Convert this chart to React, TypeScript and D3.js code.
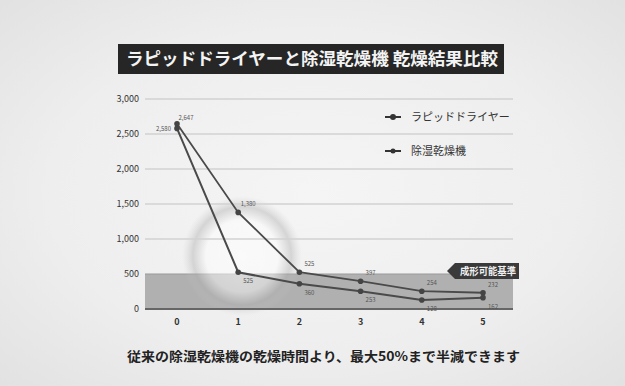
import * as d3 from "d3";
import React, { useEffect, useRef } from "react";

const steps = [0, 1, 2, 3, 4, 5];
const rapidDryer = [2580, 525, 360, 253, 128, 162];
const dehumidDryer = [2647, 1380, 525, 397, 254, 232];
const yTicks = [0, 500, 1000, 1500, 2000, 2500, 3000];
const seriesNames = ["ラピッドドライヤー", "除湿乾燥機"];
const moldLimit = 500;

export default function App() {
    const ref = useRef<SVGSVGElement | null>(null);

    useEffect(() => {
        const svg = d3.select(ref.current);
        svg.selectAll("*").remove();
        const font = "'Noto Sans CJK JP', 'Noto Sans', sans-serif";

        const x = d3.scaleLinear().domain([0, 5]).range([177, 483]);
        const y = d3.scaleLinear().domain([0, 3000]).range([309, 99]);

        const defs = svg.append("defs");
        const bg = defs.append("radialGradient").attr("id", "bg").attr("cx", 0.5).attr("cy", 0.5).attr("r", 0.7);
        bg.append("stop").attr("offset", 0).attr("stop-color", "#f5f5f5");
        bg.append("stop").attr("offset", 0.6).attr("stop-color", "#eeeeee");
        bg.append("stop").attr("offset", 1).attr("stop-color", "#e2e2e2");
        const glow = defs.append("radialGradient").attr("id", "glow");
        glow.append("stop").attr("offset", 0).attr("stop-color", "#ffffff").attr("stop-opacity", 0.6);
        glow.append("stop").attr("offset", 0.6).attr("stop-color", "#ffffff").attr("stop-opacity", 0.45);
        glow.append("stop").attr("offset", 0.82).attr("stop-color", "#b0b0b0").attr("stop-opacity", 0.45);
        glow.append("stop").attr("offset", 1).attr("stop-color", "#cccccc").attr("stop-opacity", 0);

        svg.append("rect").attr("width", 625).attr("height", 386).attr("fill", "url(#bg)");

        // title
        svg.append("rect").attr("x", 118).attr("y", 44).attr("width", 386).attr("height", 30).attr("fill", "#262626");
        svg.append("text")
            .attr("x", 126).attr("y", 65)
            .attr("textLength", 372).attr("lengthAdjust", "spacingAndGlyphs")
            .attr("font-family", font).attr("font-weight", "bold").attr("font-size", 17)
            .attr("fill", "#f4f4f4")
            .text("ラピッドドライヤーと除湿乾燥機 乾燥結果比較");

        // band
        svg.append("rect")
            .attr("x", 145).attr("y", y(moldLimit))
            .attr("width", 368).attr("height", y(0) - y(moldLimit))
            .attr("fill", "#b0b0b0");
        svg.append("line").attr("x1", 145).attr("x2", 513).attr("y1", y(moldLimit)).attr("y2", y(moldLimit))
            .attr("stroke", "#999").attr("stroke-width", 1);

        // glow
        svg.append("circle").attr("cx", 242).attr("cy", 256).attr("r", 60).attr("fill", "url(#glow)");

        // grid
        svg.append("g").selectAll("line").data(yTicks.filter((t) => t > 0 && t !== moldLimit)).enter().append("line")
            .attr("x1", 145).attr("x2", 513)
            .attr("y1", (d) => y(d)).attr("y2", (d) => y(d))
            .attr("stroke", "#d2d2d2").attr("stroke-width", 1.5);
        svg.append("line").attr("x1", 145).attr("x2", 513).attr("y1", y(0)).attr("y2", y(0))
            .attr("stroke", "#666").attr("stroke-width", 2);

        // y labels
        svg.append("g").selectAll("text").data(yTicks).enter().append("text")
            .attr("x", 139).attr("y", (d) => y(d) + 3)
            .attr("text-anchor", "end")
            .attr("font-family", font).attr("font-size", 9).attr("fill", "#333")
            .text((d) => d3.format(",")(d));

        // x labels
        svg.append("g").selectAll("text").data(steps).enter().append("text")
            .attr("x", (d) => x(d)).attr("y", 325)
            .attr("text-anchor", "middle")
            .attr("font-family", font).attr("font-weight", "bold").attr("font-size", 9).attr("fill", "#333")
            .text((d) => d);

        const line = d3.line<number>().x((d, i) => x(steps[i])).y((d) => y(d));
        const all = [rapidDryer, dehumidDryer];
        all.forEach((s, k) => {
            svg.append("path").attr("d", line(s)).attr("fill", "none")
                .attr("stroke", "#4a4a4a").attr("stroke-width", k === 0 ? 2 : 1.8);
            svg.append("g").selectAll("circle").data(s).enter().append("circle")
                .attr("cx", (d, i) => x(steps[i])).attr("cy", (d) => y(d))
                .attr("r", 2.8).attr("fill", "#444");
            svg.append("g").selectAll("text").data(s).enter().append("text")
                .attr("x", (d, i) => x(steps[i]) + (i === 0 ? (k === 0 ? -6 : 9) : 10))
                .attr("y", (d, i) => {
                    if (i === 0) return y(d) + (k === 0 ? 3 : -4);
                    const other = all[1 - k][i];
                    return d >= other ? y(d) - 6 : y(d) + 11;
                })
                .attr("text-anchor", (d, i) => (i === 0 && k === 0 ? "end" : "middle"))
                .attr("font-family", font).attr("font-size", 6).attr("fill", "#555")
                .text((d) => d3.format(",")(d));
        });

        // legend
        seriesNames.forEach((n, i) => {
            const ly = 117 + i * 34;
            svg.append("line").attr("x1", 385).attr("x2", 401).attr("y1", ly).attr("y2", ly)
                .attr("stroke", "#333").attr("stroke-width", 2);
            svg.append("circle").attr("cx", 393).attr("cy", ly).attr("r", i === 0 ? 3 : 2.5).attr("fill", "#333");
            svg.append("text").attr("x", 411).attr("y", ly + 4)
                .attr("font-family", font).attr("font-size", 11).attr("fill", "#333")
                .text(n);
        });

        // band label
        const lb = svg.append("g").attr("transform", `translate(447, ${y(moldLimit) - 3})`);
        lb.append("path").attr("d", "M0,0 L8,-8 L72,-8 L72,8 L8,8 Z").attr("fill", "#3a3a3a");
        lb.append("text").attr("x", 13).attr("y", 4)
            .attr("textLength", 56).attr("lengthAdjust", "spacingAndGlyphs")
            .attr("font-family", font).attr("font-weight", "bold").attr("font-size", 10).attr("fill", "#f0f0f0")
            .text("成形可能基準");

        // caption
        svg.append("text")
            .attr("x", 127).attr("y", 361)
            .attr("textLength", 393).attr("lengthAdjust", "spacingAndGlyphs")
            .attr("font-family", font).attr("font-weight", "bold").attr("font-size", 13).attr("fill", "#222")
            .text("従来の除湿乾燥機の乾燥時間より、最大50%まで半減できます");
    }, []);

    return (
        <svg ref={ref} width={625} height={386} style={{ position: "absolute", left: 0, top: 0 }} />
    );
}
